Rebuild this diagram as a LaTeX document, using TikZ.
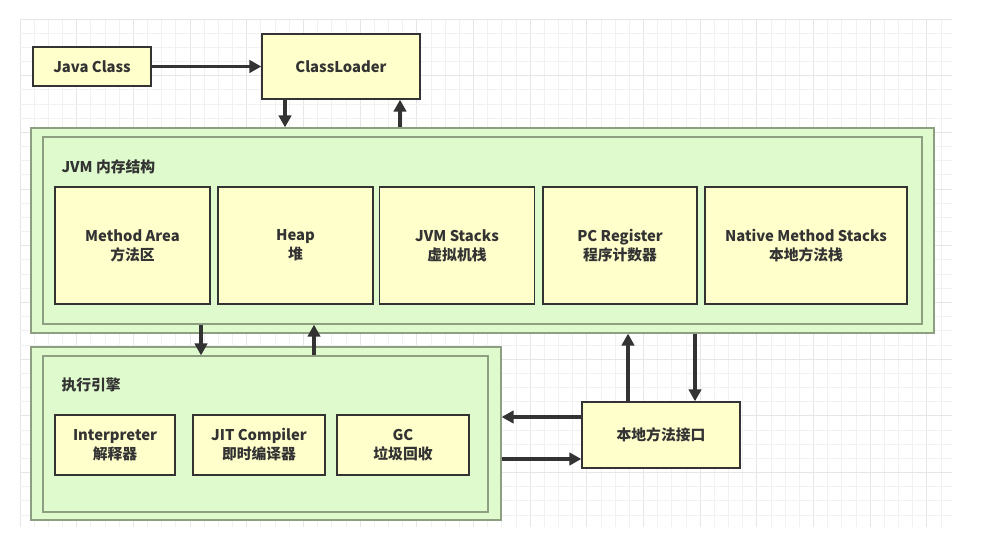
\documentclass[tikz,border=0pt]{standalone}
\usepackage{fontspec}
\setmainfont{Noto Sans CJK SC}
\usetikzlibrary{arrows.meta,positioning}
\definecolor{BoxYellow}{HTML}{FFFFCC}
\definecolor{AreaGreen}{HTML}{DFFACC}
\definecolor{AreaLine}{HTML}{8E9E80}
\definecolor{InkGrey}{HTML}{333333}
\definecolor{GridMinor}{HTML}{F1F1F1}
\definecolor{GridMajor}{HTML}{E6E6E6}

\begin{document}
\begin{tikzpicture}[x=1pt,y=-1pt,every node/.style={font=\fontsize{14.8}{19}\selectfont\bfseries,text=InkGrey},
  unit/.style={draw=InkGrey,line width=1.4pt,fill=BoxYellow,align=center,inner sep=0pt},
  area/.style={draw=AreaLine,line width=1.3pt,fill=AreaGreen,inner sep=0pt},
  flow/.style={draw=InkGrey,line width=3.3pt,-{Triangle[length=12pt,width=12.5pt]}}]
\useasboundingbox[fill=white] (0,0) rectangle (1000,536);
% background grid
\foreach \gx in {0,...,65} {
  \pgfmathtruncatemacro{\gm}{mod(\gx,4)}
  \ifnum\gm=0 \draw[GridMajor,line width=0.8pt] ({20+\gx*14.17},19) -- ({20+\gx*14.17},527);
  \else \draw[GridMinor,line width=0.8pt] ({20+\gx*14.17},19) -- ({20+\gx*14.17},527); \fi
}
\foreach \gy in {0,...,35} {
  \pgfmathtruncatemacro{\gm}{mod(\gy,4)}
  \ifnum\gm=0 \draw[GridMajor,line width=0.8pt] (20,{19+\gy*14.17}) -- (952,{19+\gy*14.17});
  \else \draw[GridMinor,line width=0.8pt] (20,{19+\gy*14.17}) -- (952,{19+\gy*14.17}); \fi
}

\node[unit,minimum width=118pt,minimum height=39pt] (jc) at (92,66.5) {Java Class};
\node[unit,minimum width=158pt,minimum height=65pt] (cl) at (341,66.5) {ClassLoader};

% JVM memory
\node[area,minimum width=903pt,minimum height=205pt] (jvmout) at (482.5,230.5) {};
\node[area,minimum width=879pt,minimum height=187pt] (jvmin) at (482.5,230.5) {};
\node[anchor=west] (jvmlbl) at (58,167) {JVM 内存结构};
\node[unit,minimum width=155pt,minimum height=117pt] (ma) at (132.5,245.5) {Method Area\\方法区};
\node[unit,minimum width=155pt,minimum height=117pt] (heap) at (295.5,245.5) {Heap\\堆};
\node[unit,minimum width=155pt,minimum height=117pt] (stk) at (457,245.5) {JVM Stacks\\虚拟机栈};
\node[unit,minimum width=154pt,minimum height=117pt] (pc) at (620,245.5) {PC Register\\程序计数器};
\node[unit,minimum width=202pt,minimum height=117pt] (nms) at (806,245.5) {Native Method Stacks\\本地方法栈};

% execution engine
\node[area,minimum width=470pt,minimum height=173pt] (exout) at (266,433.5) {};
\node[area,minimum width=445pt,minimum height=156pt] (exin) at (265.5,434) {};
\node[anchor=west] (exlbl) at (58,385) {执行引擎};
\node[unit,minimum width=120pt,minimum height=60pt] (itp) at (115,445) {Interpreter\\解释器};
\node[unit,minimum width=132pt,minimum height=60pt] (jit) at (259,445) {JIT Compiler\\即时编译器};
\node[unit,minimum width=132pt,minimum height=60pt] (gc) at (403,445) {GC\\垃圾回收};

\node[unit,minimum width=158pt,minimum height=66pt] (ni) at (661,435) {本地方法接口};

\coordinate (c1) at (285,0);
\coordinate (c2) at (400,0);
\coordinate (c3) at (201,0);
\coordinate (c4) at (314,0);
\coordinate (c5) at (628,0);
\coordinate (c6) at (695,0);
\coordinate (c7) at (0,417);
\coordinate (c8) at (0,459);

\draw[flow] (jc) -- (cl);
\draw[flow] (cl.south -| c1) -- (jvmout.north -| c1);
\draw[flow] (jvmout.north -| c2) -- (cl.south -| c2);
\draw[flow] (jvmin.south -| c3) -- (exin.north -| c3);
\draw[flow] (exin.north -| c4) -- (jvmin.south -| c4);
\draw[flow] (ni.north -| c5) -- (jvmout.south -| c5);
\draw[flow] (jvmout.south -| c6) -- (ni.north -| c6);
\draw[flow] (ni.west |- c7) -- (exout.east |- c7);
\draw[flow] (exout.east |- c8) -- (ni.west |- c8);
\end{tikzpicture}
\end{document}
